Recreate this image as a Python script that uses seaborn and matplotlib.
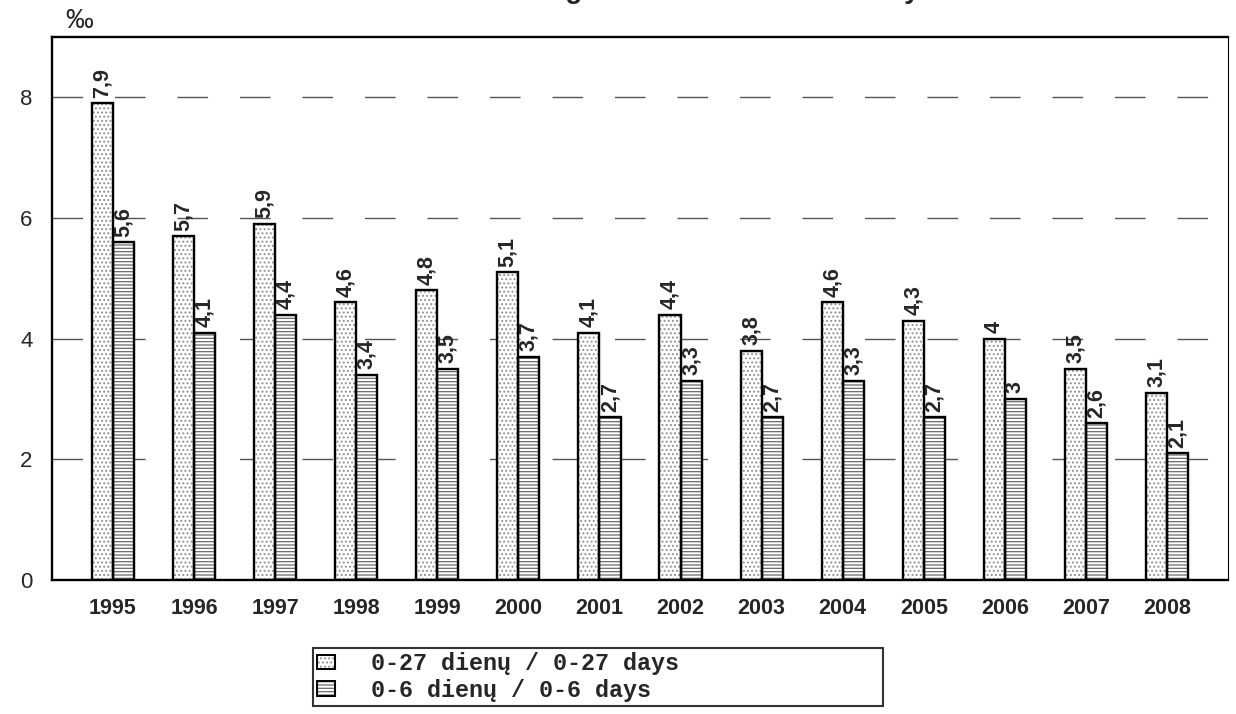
import pandas as pd
import seaborn as sns
import matplotlib.pyplot as plt
from matplotlib.patches import Patch
from matplotlib.legend_handler import HandlerTuple

years = ['1995', '1996', '1997', '1998', '1999', '2000', '2001',
         '2002', '2003', '2004', '2005', '2006', '2007', '2008']
days_0_27 = [7.9, 5.7, 5.9, 4.6, 4.8, 5.1, 4.1, 4.4, 3.8, 4.6, 4.3, 4.0, 3.5, 3.1]
days_0_6 = [5.6, 4.1, 4.4, 3.4, 3.5, 3.7, 2.7, 3.3, 2.7, 3.3, 2.7, 3.0, 2.6, 2.1]
series_names = ['0-27 dienų / 0-27 days', '0-6 dienų / 0-6 days']
y_ticks = [0, 2, 4, 6, 8]

df = pd.DataFrame({
    'year': years + years,
    'value': days_0_27 + days_0_6,
    'series': [series_names[0]] * len(years) + [series_names[1]] * len(years),
})

sns.set_style('white')
plt.rcParams['font.family'] = ['Liberation Sans', 'DejaVu Sans']
plt.rcParams['hatch.linewidth'] = 0.9

fig = plt.figure(figsize=(12.36, 7.14), dpi=100)
ax = fig.add_axes([0.0421, 0.1877, 0.9514, 0.7605])

hatches = ['....', '-----']
hatch_colors = ['#8f8f8f', '#6a6a6a']

# hatched fill (hatch takes the edge colour), then a black outline on top
sns.barplot(data=df, x='year', y='value', hue='series', hue_order=series_names,
            palette=['white', 'white'], width=0.52, gap=0, linewidth=0.8,
            errorbar=None, legend=False, ax=ax, zorder=2)
for i, cont in enumerate(ax.containers):
    for p in cont:
        p.set_hatch(hatches[i])
        p.set_edgecolor(hatch_colors[i])
fill_conts = list(ax.containers)

sns.barplot(data=df, x='year', y='value', hue='series', hue_order=series_names,
            palette=['black', 'black'], width=0.52, gap=0, linewidth=1.7,
            fill=False, errorbar=None, legend=False, ax=ax, zorder=3)

for cont in fill_conts:
    labels = [f'{v:g}'.replace('.', ',') for v in cont.datavalues]
    ax.bar_label(cont, labels=labels, rotation=90, padding=4,
                 fontsize=15.5, fontweight='bold')

ax.set_xlim(-0.75, len(years) - 0.25)
ax.set_ylim(0, 9)
ax.set_yticks(y_ticks)
ax.yaxis.grid(True, color='#555555', linewidth=1, linestyle=(0, (22, 23)))
ax.set_axisbelow(True)
ax.set_xlabel('')
ax.set_ylabel('')
ax.tick_params(axis='y', length=0, pad=14, labelsize=16)
ax.tick_params(axis='x', length=0, pad=13, labelsize=15.5)
for lab in ax.get_xticklabels():
    lab.set_fontweight('bold')

for side in ['left', 'bottom', 'top']:
    ax.spines[side].set_color('black')
    ax.spines[side].set_linewidth(1.7)
ax.spines['right'].set_color('black')
ax.spines['right'].set_linewidth(0.8)

fig.text(0.053, 0.952, '‰', fontsize=20, ha='left', va='bottom')
fig.text(0.5, 1.003, 'Neonatalinis mirtingumas / Neonatal mortality',
         fontsize=20, fontweight='bold', ha='center', va='baseline')

handles = [(Patch(facecolor='white', edgecolor=hatch_colors[i], hatch=hatches[i],
                  linewidth=0.8),
            Patch(fill=False, edgecolor='black', linewidth=1.4))
           for i in range(2)]
leg = fig.legend(handles, series_names, loc='upper left',
                 bbox_to_anchor=(0.253, 0.0, 0.461, 0.093), mode='expand',
                 frameon=True, fancybox=False,
                 handler_map={tuple: HandlerTuple(ndivide=1)},
                 prop={'family': 'Liberation Mono', 'weight': 'bold', 'size': 16.8},
                 handlelength=0.75, handleheight=0.6, handletextpad=1.55,
                 borderaxespad=0, borderpad=0.2, labelspacing=0.15)
leg.get_frame().set_edgecolor('black')
leg.get_frame().set_linewidth(1.5)

fig.savefig('out.png', dpi=100)
